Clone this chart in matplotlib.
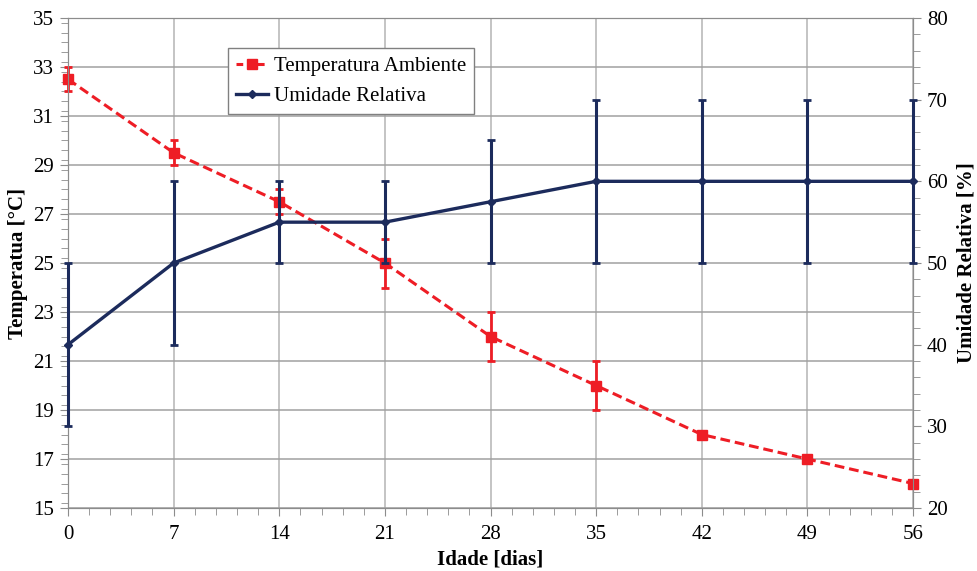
#!/usr/bin/env python3
"""Temperatura ambiente e umidade relativa ao longo da idade (dias)."""
import matplotlib
matplotlib.use('Agg')
import matplotlib.pyplot as plt
from matplotlib.ticker import MultipleLocator
from matplotlib.lines import Line2D

idade = [0, 7, 14, 21, 28, 35, 42, 49, 56]
temperatura = [32.5, 29.5, 27.5, 25.0, 22.0, 20.0, 18.0, 17.0, 16.0]
temperatura_err = [0.5, 0.5, 0.5, 1.0, 1.0, 1.0, 0.0, 0.0, 0.0]
umidade = [40.0, 50.0, 55.0, 55.0, 57.5, 60.0, 60.0, 60.0, 60.0]
umidade_err = [10.0, 10.0, 5.0, 5.0, 7.5, 10.0, 10.0, 10.0, 10.0]
temp_ticks = list(range(15, 36, 2))

RED = '#EE1D25'
NAVY = '#1C2B5C'
AXIS_GREY = '#8C8C8C'

plt.rcParams['font.family'] = ['Liberation Serif', 'DejaVu Serif']
plt.rcParams['font.size'] = 15

fig, ax = plt.subplots(figsize=(9.77, 5.71), dpi=100)
fig.subplots_adjust(left=0.0696, right=0.9345, top=0.9685, bottom=0.1103)
ax2 = ax.twinx()

# temperature on the primary axis
temp = ax.errorbar(idade, temperatura, yerr=temperatura_err, color=RED, ls=(0, (3.2, 1.6)),
                   lw=2.2, marker='s', ms=7, capsize=3, capthick=2, elinewidth=2, zorder=3)
ax.set_xlim(0, 56)
ax.set_ylim(15, 35)
ax.xaxis.set_major_locator(MultipleLocator(7))
ax.xaxis.set_minor_locator(MultipleLocator(1.4))
ax.set_yticks(temp_ticks)
ax.yaxis.set_minor_locator(MultipleLocator(0.4))
ax.grid(True, axis='y', color='#A0A0A0', lw=1.1)
ax.grid(True, axis='x', color='#C4C4C4', lw=1.4)
ax.set_axisbelow(True)

# relative humidity on the secondary axis
umid = ax2.errorbar(idade, umidade, yerr=umidade_err, color=NAVY, ls='-', lw=2.4,
                    marker='D', ms=4, capsize=3, capthick=2, elinewidth=2.2, zorder=4)
ax2.set_ylim(20, 80)
ax2.yaxis.set_major_locator(MultipleLocator(10))
ax2.yaxis.set_minor_locator(MultipleLocator(2))

for container in (temp, umid):
    for artist in container.lines[0:1] + tuple(container.lines[1]) + tuple(container.lines[2]):
        artist.set_clip_on(False)

for a in (ax, ax2):
    for s in a.spines.values():
        s.set_color(AXIS_GREY)
    a.tick_params(which='both', direction='out', color=AXIS_GREY, labelsize=15, pad=4)
    a.tick_params(which='major', length=6)
    a.tick_params(which='minor', length=5)
ax.tick_params(axis='x', pad=6)

ax.set_xlabel('Idade [dias]', fontweight='bold', fontsize=15, labelpad=4)
ax.set_ylabel('Temperatua [°C]', fontweight='bold', fontsize=15, labelpad=4)
ax2.set_ylabel('Umidade Relativa [%]', fontweight='bold', fontsize=15, labelpad=6)

handles = [
    Line2D([], [], color=RED, ls=(0, (2.2, 1.3)), lw=2.2, marker='s', ms=7),
    Line2D([], [], color=NAVY, ls='-', lw=2.4, marker='D', ms=4),
]
leg = ax2.legend(handles, ['Temperatura Ambiente', 'Umidade Relativa'],
                 loc='upper left', bbox_to_anchor=(0.189, 0.939), borderaxespad=0,
                 fancybox=False, framealpha=1, edgecolor='#808080', fontsize=15,
                 handlelength=1.55, borderpad=0.4, labelspacing=0.5, handletextpad=0.25)
leg.get_frame().set_linewidth(1.0)

fig.savefig('out.png', dpi=100)
